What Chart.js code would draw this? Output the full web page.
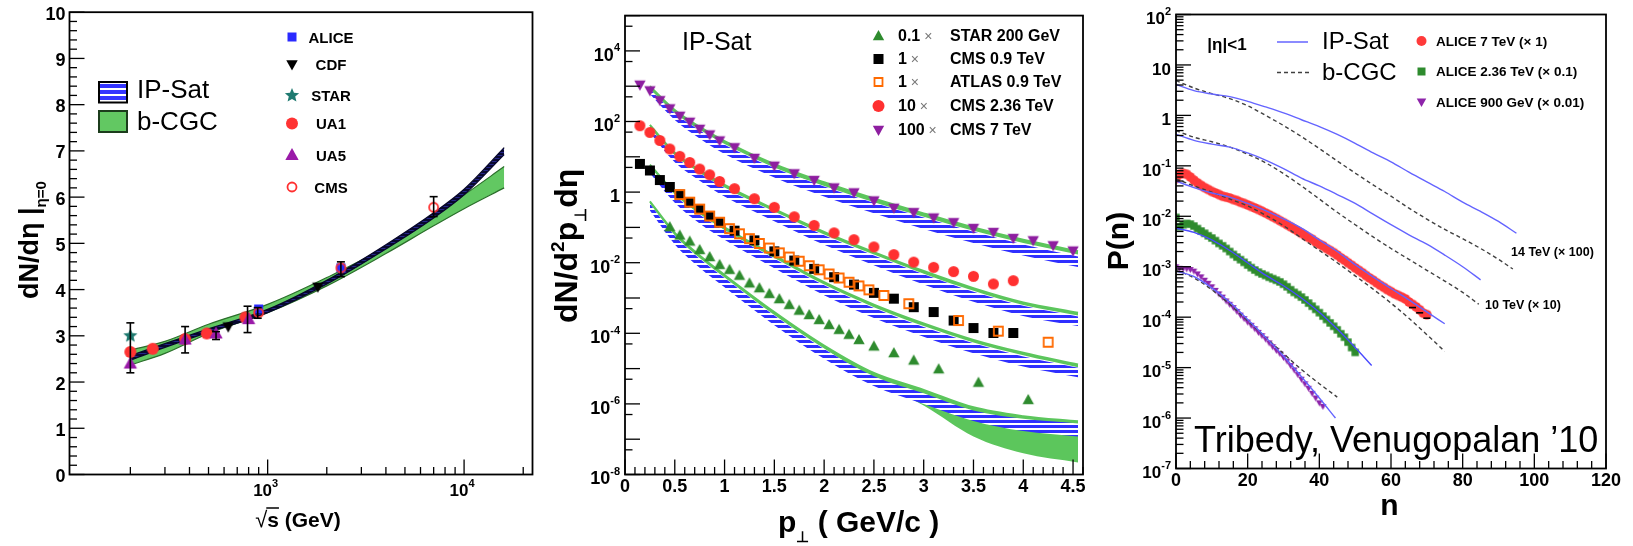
<!DOCTYPE html>
<html>
<head>
<meta charset="utf-8">
<title>IP-Sat / b-CGC: multiplicity, spectra and P(n)</title>
<script src="https://cdn.jsdelivr.net/npm/chart.js@4.4.1/dist/chart.umd.min.js"></script>
<style>
  html, body { margin: 0; padding: 0; background: #fff; }
  body { position: relative; width: 1633px; height: 546px; overflow: hidden; }
  canvas { position: absolute; left: 0; top: 0; }
</style>
</head>
<body>
<canvas id="left" width="1633" height="546"></canvas>
<canvas id="mid" width="1633" height="546"></canvas>
<canvas id="right" width="1633" height="546"></canvas>
<script>
// ---------------- left panel: dN/deta at eta=0 vs sqrt(s) ----------------
const leftYTicks = [0, 1, 2, 3, 4, 5, 6, 7, 8, 9, 10];
const leftXTicks = [1000, 10000];
const leftXExp = [3, 4];

const sqrtS   = [200, 300, 500, 1000, 2000, 4000, 7000, 10000, 16000];
const ipsatLo = [2.47, 2.75, 3.08, 3.50, 4.12, 4.88, 5.55, 6.05, 6.92];
const ipsatHi = [2.57, 2.83, 3.15, 3.57, 4.20, 4.97, 5.66, 6.17, 7.07];
const bcgcLo  = [2.37, 2.62, 3.05, 3.50, 4.08, 4.78, 5.38, 5.75, 6.20];
const bcgcHi  = [2.69, 2.88, 3.25, 3.68, 4.26, 4.93, 5.64, 6.05, 6.66];

const starS = [200], starV = [3.0];
const ua1S = [200, 260, 380, 490, 770], ua1V = [2.65, 2.72, 2.93, 3.05, 3.40];
const ua5S = [200, 380, 546, 800], ua5V = [2.40, 2.92, 3.05, 3.36];
const cdfS = [630, 1800], cdfV = [3.20, 4.06];
const aliceS = [900, 2360], aliceV = [3.58, 4.47];
const cmsS = [900, 2360, 7000], cmsV = [3.50, 4.47, 5.78];
const errS  = [200, 380, 546, 790, 890, 2360, 7000];
const errLo = [2.20, 2.63, 2.92, 3.07, 3.38, 4.28, 5.58];
const errHi = [3.28, 3.20, 3.09, 3.64, 3.61, 4.60, 6.01];

// ---------------- middle panel: dN/d2pT deta vs pT ----------------
const midXTicks = [0, 0.5, 1, 1.5, 2, 2.5, 3, 3.5, 4, 4.5];
const midXLabels = ['0', '0.5', '1', '1.5', '2', '2.5', '3', '3.5', '4', '4.5'];
const midYExp = [4, 2, 0, -2, -4, -6, -8];

const ptBand = [0.25, 0.5, 0.75, 1.0, 1.5, 2.0, 2.5, 3.0, 3.5, 4.0, 4.55];
const cgcHi7 = [1000, 210, 70, 28, 6.2, 1.9, 0.66, 0.25, 0.10, 0.045, 0.021];
const cgcLo7 = [820, 175, 58, 23, 5.0, 1.5, 0.52, 0.20, 0.08, 0.036, 0.017];
const ipHi7  = [820, 170, 56, 22, 4.8, 1.45, 0.50, 0.19, 0.075, 0.033, 0.015];
const ipLo7  = [600, 110, 33, 12, 2.6, 0.75, 0.25, 0.09, 0.036, 0.016, 0.0075];
const cgcHi236 = [80, 13, 4.2, 1.6, 0.33, 0.075, 0.02, 0.0058, 0.0019, 0.00075, 0.00038];
const cgcLo236 = [68, 11, 3.5, 1.35, 0.28, 0.063, 0.017, 0.0049, 0.0016, 0.00063, 0.00032];
const ipHi236  = [68, 10.5, 3.4, 1.3, 0.27, 0.06, 0.016, 0.0047, 0.0015, 0.0006, 0.0003];
const ipLo236  = [48, 7, 2.1, 0.75, 0.15, 0.032, 0.0085, 0.0024, 0.00078, 0.00031, 0.00016];
const cgcHi09 = [6, 1.0, 0.28, 0.1, 0.016, 0.0028, 0.00065, 0.00019, 0.000065, 0.000028, 0.000013];
const cgcLo09 = [5.1, 0.85, 0.24, 0.085, 0.0135, 0.0024, 0.00055, 0.00016, 0.000055, 0.000024, 0.000011];
const ipHi09  = [5, 0.82, 0.23, 0.082, 0.013, 0.0023, 0.00052, 0.00015, 0.000052, 0.000022, 0.0000105];
const ipLo09  = [3.5, 0.5, 0.13, 0.045, 0.007, 0.0012, 0.00027, 0.00008, 0.000027, 0.0000115, 0.0000057];
const cgcHi02 = [0.55, 0.07, 0.016, 0.0045, 0.0004, 0.000045, 0.0000075, 0.0000025, 0.0000008, 0.00000045, 0.00000032];
const cgcLo02 = [0.47, 0.06, 0.0135, 0.0038, 0.00033, 0.000037, 0.000005, 0.0000009, 0.00000012, 0.00000004, 0.000000022];
const ipHi02  = [0.47, 0.058, 0.013, 0.0037, 0.00032, 0.000036, 0.0000061, 0.000002, 0.00000065, 0.00000038, 0.00000028];
const ipLo02  = [0.3, 0.033, 0.0072, 0.002, 0.00017, 0.000019, 0.0000032, 0.000001, 0.00000033, 0.00000017, 0.00000012];

const cms7Pt = [0.15, 0.25, 0.35, 0.45, 0.55, 0.65, 0.75, 0.85, 0.95, 1.1, 1.3, 1.5, 1.7, 1.9, 2.1, 2.3, 2.5, 2.7, 2.9, 3.1, 3.3, 3.5, 3.7, 3.9, 4.1, 4.3, 4.5];
const cms7 = [1100, 760, 400, 235, 145, 98, 62, 43, 29, 18.6, 9.3, 5.6, 3.4, 2.2, 1.35, 0.98, 0.58, 0.36, 0.27, 0.19, 0.14, 0.096, 0.074, 0.050, 0.043, 0.031, 0.022];
const cms236Pt = [0.15, 0.25, 0.35, 0.45, 0.55, 0.65, 0.75, 0.85, 0.95, 1.1, 1.3, 1.5, 1.7, 1.9, 2.1, 2.3, 2.5, 2.7, 2.9, 3.1, 3.3, 3.5, 3.7, 3.9];
const cms236 = [76, 49, 29, 16.7, 10.3, 6.9, 4.5, 3.1, 2.0, 1.25, 0.65, 0.37, 0.20, 0.114, 0.070, 0.045, 0.028, 0.017, 0.0104, 0.0074, 0.0056, 0.0041, 0.0025, 0.0031];
const cms09Pt = [0.15, 0.25, 0.35, 0.45, 0.55, 0.65, 0.75, 0.85, 0.95, 1.1, 1.3, 1.5, 1.7, 1.9, 2.1, 2.3, 2.5, 2.7, 2.9, 3.1, 3.3, 3.5, 3.7, 3.9];
const cms09 = [6.3, 4.1, 2.2, 1.4, 0.85, 0.52, 0.33, 0.21, 0.14, 0.081, 0.043, 0.021, 0.0115, 0.0067, 0.0039, 0.0024, 0.0014, 0.00096, 0.00055, 0.0004, 0.00023, 0.000141, 0.000102, 0.000102];
const atlas09Pt = [0.55, 0.65, 0.75, 0.85, 0.95, 1.05, 1.15, 1.25, 1.35, 1.45, 1.55, 1.65, 1.75, 1.85, 1.95, 2.05, 2.15, 2.25, 2.35, 2.45, 2.6, 2.85, 3.35, 3.75, 4.25];
const atlas09 = [0.85, 0.52, 0.33, 0.21, 0.14, 0.092, 0.066, 0.048, 0.035, 0.026, 0.019, 0.0145, 0.011, 0.0082, 0.0063, 0.0048, 0.0037, 0.0028, 0.0022, 0.0017, 0.00118, 0.00069, 0.00023, 0.000115, 0.000056];
const star200Pt = [0.45, 0.55, 0.65, 0.75, 0.85, 0.95, 1.05, 1.15, 1.25, 1.35, 1.45, 1.55, 1.65, 1.75, 1.85, 1.95, 2.05, 2.15, 2.25, 2.35, 2.5, 2.7, 2.9, 3.15, 3.55, 4.05];
const star200 = [0.102, 0.059, 0.040, 0.023, 0.0145, 0.0087, 0.0063, 0.0043, 0.0026, 0.0019, 0.00131, 0.00093, 0.00064, 0.00044, 0.00033, 0.00024, 0.000173, 0.000126, 0.000091, 0.000065, 0.0000425, 0.0000275, 0.000017, 0.0000096, 0.000004, 0.0000013];

const midLegend = [
  { kind: 'tri', color: '#2e8b2e', factor: '0.1', name: 'STAR 200 GeV' },
  { kind: 'square', color: '#000', factor: '1', name: 'CMS 0.9 TeV' },
  { kind: 'osquare', color: '#ff6a00', factor: '1', name: 'ATLAS 0.9 TeV' },
  { kind: 'circle', color: '#ff3030', factor: '10', name: 'CMS 2.36 TeV' },
  { kind: 'dtri', color: '#8e1ea0', factor: '100', name: 'CMS 7 TeV' }
];

// ---------------- right panel: P(n) vs n ----------------
const rightXTicks = [0, 20, 40, 60, 80, 100, 120];
const rightYExp = [2, 1, 0, -1, -2, -3, -4, -5, -6, -7];

// ALICE points, index = multiplicity n
const alice7 = [0.056, 0.068, 0.071, 0.068, 0.060, 0.052, 0.046, 0.041, 0.037, 0.034,
  0.031, 0.029, 0.027, 0.025, 0.024, 0.023, 0.0215, 0.0205, 0.019, 0.018,
  0.0168, 0.0157, 0.0146, 0.0136, 0.0126, 0.0116, 0.0107, 0.0098, 0.0090, 0.0082,
  0.0075, 0.0068, 0.0062, 0.0056, 0.0051, 0.0046, 0.0042, 0.0038, 0.0035, 0.0031,
  0.0028, 0.0026, 0.0023, 0.0021, 0.0019, 0.0017, 0.0015, 0.00135, 0.0012, 0.00107,
  0.00095, 0.00085, 0.00076, 0.00067, 0.0006, 0.00054, 0.00048, 0.00043, 0.00039, 0.00035,
  0.00032, 0.00029, 0.00027, 0.00025, 0.00023, 0.0002, 0.00018, 0.00016, 0.00014, 0.00012,
  0.000112];
const alice236 = [0.0095, 0.0062, 0.0068, 0.0072, 0.0070, 0.0064, 0.0057, 0.0051, 0.0046, 0.0041,
  0.0037, 0.0033, 0.0029, 0.0026, 0.0023, 0.0020, 0.00175, 0.00155, 0.00138, 0.00122,
  0.00108, 0.00096, 0.00086, 0.00078, 0.00072, 0.00067, 0.00062, 0.00058, 0.00054, 0.0005,
  0.00045, 0.0004, 0.00035, 0.00031, 0.00028, 0.00025, 0.00022, 0.00019, 0.000165, 0.000143,
  0.000123, 0.000105, 0.00009, 0.000077, 0.000066, 0.000056, 0.000047, 0.00004, 0.000032, 0.000025,
  0.00002];
const alice900 = [0.001, 0.00093, 0.00092, 0.00091, 0.00088, 0.00082, 0.00072, 0.00063, 0.00054, 0.00047,
  0.0004, 0.00034, 0.00029, 0.00025, 0.00021, 0.00018, 0.000155, 0.00013, 0.00011, 0.000094,
  0.00008, 0.000069, 0.000059, 0.00005, 0.000043, 0.000037, 0.000031, 0.000026, 0.000022, 0.000019,
  0.000016, 0.0000135, 0.000011, 0.000009, 0.0000073, 0.0000059, 0.0000048, 0.0000039, 0.0000031, 0.0000025,
  0.000002, 0.0000017];
// lower ends of the last ALICE 7 TeV error bars, [n, P]
const alice7ErrLow = [[66, 0.000155], [68, 0.000122], [70, 0.0000955]];

// model curves, [n, P(n)]
const ip14 = [[0, 4.1], [5, 3.1], [10, 2.65], [15, 2.35], [20, 1.9], [25, 1.47], [30, 1.12], [35, 0.82], [40, 0.6], [45, 0.42], [50, 0.28], [55, 0.18], [60, 0.12], [65, 0.075], [70, 0.048], [75, 0.031], [80, 0.019], [85, 0.0125], [90, 0.0079], [95, 0.0046]];
const cgc14 = [[0, 4.9], [5, 3.5], [10, 2.7], [15, 2.15], [20, 1.55], [25, 1.0], [30, 0.63], [35, 0.38], [40, 0.22], [45, 0.125], [50, 0.072], [55, 0.042], [60, 0.025], [65, 0.0145], [70, 0.0088], [75, 0.0055], [80, 0.0036], [85, 0.0023], [90, 0.0014], [94, 0.0009]];
const ip10 = [[0, 0.42], [5, 0.32], [10, 0.27], [15, 0.235], [20, 0.18], [25, 0.13], [30, 0.088], [35, 0.057], [40, 0.04], [45, 0.027], [50, 0.018], [55, 0.011], [60, 0.0068], [65, 0.0043], [70, 0.0028], [75, 0.0017], [80, 0.001], [85, 0.00055]];
const cgc10 = [[0, 0.5], [5, 0.37], [10, 0.3], [15, 0.235], [20, 0.17], [25, 0.115], [30, 0.07], [35, 0.04], [40, 0.022], [45, 0.012], [50, 0.0068], [55, 0.0039], [60, 0.0023], [65, 0.0014], [70, 0.00085], [75, 0.00052], [80, 0.00031], [84.5, 0.00018]];
const ip7 = [[0, 0.05], [5, 0.037], [10, 0.029], [15, 0.024], [20, 0.018], [25, 0.013], [30, 0.0089], [35, 0.0058], [40, 0.0034], [45, 0.002], [50, 0.0011], [55, 0.00063], [60, 0.00037], [65, 0.00022], [70, 0.000127], [75, 0.000074]];
const cgc7 = [[0, 0.055], [5, 0.04], [10, 0.03], [15, 0.022], [20, 0.016], [25, 0.0105], [30, 0.0065], [35, 0.0037], [40, 0.0021], [45, 0.0012], [50, 0.00066], [55, 0.00036], [60, 0.00019], [65, 0.000095], [70, 0.000045], [75, 0.000021]];
const ip236 = [[0, 0.0058], [5, 0.0048], [10, 0.0034], [15, 0.0021], [20, 0.0012], [25, 0.00068], [30, 0.00042], [35, 0.00024], [40, 0.000125], [45, 0.000058], [50, 0.000025], [54.6, 0.000011]];
const ip09 = [[0, 0.00082], [5, 0.00064], [10, 0.00038], [15, 0.0002], [20, 0.00009], [25, 0.00004], [30, 0.000017], [35, 0.0000066], [40, 0.0000025], [44.5, 0.000001]];
const cgc09 = [[0, 0.00086], [5, 0.0006], [10, 0.00035], [15, 0.00018], [20, 0.000085], [25, 0.00004], [30, 0.000019], [35, 0.0000092], [40, 0.0000048], [45, 0.0000026]];

const rightLegend = [
  { kind: 'circle', color: '#ff3a3a', name: 'ALICE 7 TeV (\u00D7 1)' },
  { kind: 'square', color: '#2e8b2e', name: 'ALICE 2.36 TeV (\u00D7 0.1)' },
  { kind: 'dtri', color: '#8e24aa', name: 'ALICE 900 GeV (\u00D7 0.01)' }
];

// ---------------- helpers ----------------
const F = '"Liberation Sans", Arial, Helvetica, sans-serif';
const fnt = (s, b) => (b ? 'bold ' : '') + s + 'px ' + F;

function seg(g, x1, y1, x2, y2) { g.beginPath(); g.moveTo(x1, y1); g.lineTo(x2, y2); g.stroke(); }

function runsWidth(g, runs) {
  let w = 0;
  for (const r of runs) { g.font = fnt(r.s, r.b); w += g.measureText(r.t).width; }
  return w;
}
function runs(g, x, y, list, align) {
  const w = runsWidth(g, list);
  let cx = align === 'center' ? x - w / 2 : align === 'right' ? x - w : x;
  g.textAlign = 'left';
  for (const r of list) {
    g.font = fnt(r.s, r.b);
    g.fillStyle = r.c || '#000';
    g.fillText(r.t, cx, y + (r.dy || 0));
    cx += g.measureText(r.t).width;
  }
  return w;
}
function pow10(e, s) {
  if (e === 0) return [{ t: '1', s, b: true }];
  if (e === 1) return [{ t: '10', s, b: true }];
  return [{ t: '10', s, b: true }, { t: String(e), s: Math.round(s * 0.62), b: true, dy: -s * 0.42 }];
}

function drawMarker(g, kind, x, y, r, color) {
  g.save();
  g.fillStyle = color; g.strokeStyle = color; g.lineWidth = 1.8;
  g.beginPath();
  if (kind === 'circle') g.arc(x, y, r, 0, 2 * Math.PI);
  else if (kind === 'ocircle') g.arc(x, y, r - 1, 0, 2 * Math.PI);
  else if (kind === 'square') g.rect(x - r, y - r, 2 * r, 2 * r);
  else if (kind === 'osquare') g.rect(x - r + 1, y - r + 1, 2 * r - 2, 2 * r - 2);
  else if (kind === 'tri') { g.moveTo(x, y - r); g.lineTo(x + r * 0.95, y + r * 0.7); g.lineTo(x - r * 0.95, y + r * 0.7); g.closePath(); }
  else if (kind === 'dtri') { g.moveTo(x, y + r); g.lineTo(x + r * 0.95, y - r * 0.7); g.lineTo(x - r * 0.95, y - r * 0.7); g.closePath(); }
  else if (kind === 'star') {
    for (let i = 0; i < 10; i++) {
      const a = -Math.PI / 2 + i * Math.PI / 5, rr = i % 2 ? r * 0.45 : r;
      const px = x + rr * Math.cos(a), py = y + rr * Math.sin(a);
      if (i) g.lineTo(px, py); else g.moveTo(px, py);
    }
    g.closePath();
  }
  if (kind[0] === 'o') g.stroke(); else g.fill();
  g.restore();
}
function marker(kind, r, color) {
  const s = Math.ceil(2 * r + 4);
  const c = document.createElement('canvas');
  c.width = c.height = s;
  drawMarker(c.getContext('2d'), kind, s / 2, s / 2, r, color);
  return c;
}
function stripes(g, fg, bg, period, thick) {
  const t = document.createElement('canvas');
  t.width = 6; t.height = period;
  const c = t.getContext('2d');
  if (bg) { c.fillStyle = bg; c.fillRect(0, 0, 6, period); }
  c.fillStyle = fg; c.fillRect(0, 0, 6, thick);
  return g.createPattern(t, 'repeat');
}

const xy = (xs, ys) => xs.map((x, i) => ({ x, y: ys[i] }));
const pairs = arr => arr.map(p => ({ x: p[0], y: p[1] }));
const byIndex = arr => arr.map((y, n) => ({ x: n, y }));

const dots = (data, style, order) => ({ data, showLine: false, pointStyle: style, pointRadius: 4, order });
const curve = (data, color, width, dash, order) => ({
  data, borderColor: color, borderWidth: width, borderDash: dash || [], pointRadius: 0,
  fill: false, cubicInterpolationMode: 'monotone', order
});
const band = (data, color, width, bg, order) => Object.assign(curve(data, color, width, null, order), { fill: '-1', backgroundColor: bg });

function options(pad, xScale, yScale) {
  return {
    responsive: false, animation: false, events: [],
    layout: { padding: pad },
    plugins: { legend: { display: false }, tooltip: { enabled: false } },
    scales: {
      x: Object.assign({ display: false, bounds: 'data' }, xScale),
      y: Object.assign({ display: false, bounds: 'data' }, yScale)
    }
  };
}

// ---------------- left chart ----------------
const lctx = document.getElementById('left').getContext('2d');
const navyHatch = stripes(lctx, '#080830', '#26268a', 3, 2);
const legendBlue = stripes(lctx, '#3434ff', '#ffffff', 6, 4);

const leftDeco = {
  id: 'leftDeco',
  afterDatasetsDraw(chart) {
    const g = chart.ctx, xs = chart.scales.x, ys = chart.scales.y;
    g.save();
    g.strokeStyle = '#000'; g.lineWidth = 1.6;
    errS.forEach((s, i) => {
      const px = xs.getPixelForValue(s), p1 = ys.getPixelForValue(errLo[i]), p2 = ys.getPixelForValue(errHi[i]);
      seg(g, px, p1, px, p2); seg(g, px - 4, p1, px + 4, p1); seg(g, px - 4, p2, px + 4, p2);
    });
    g.restore();
  },
  afterDraw(chart) {
    const g = chart.ctx, a = chart.chartArea, xs = chart.scales.x, ys = chart.scales.y;
    g.save();
    g.strokeStyle = '#000'; g.lineWidth = 1.3;
    for (let i = 0; i <= 50; i++) {
      const py = ys.getPixelForValue(i / 5);
      seg(g, a.left, py, a.left + (i % 5 ? 7.5 : 15), py);
    }
    for (const d of [100, 1000, 10000]) {
      for (let m = 1; m <= 9; m++) {
        const v = m * d;
        if (v <= xs.min * 1.05 || v > xs.max) continue;
        const px = xs.getPixelForValue(v);
        seg(g, px, a.bottom, px, a.bottom - (m === 1 ? 15 : 7.5));
      }
    }
    g.lineWidth = 1.8;
    g.strokeRect(a.left, a.top, a.right - a.left, a.bottom - a.top);

    g.textBaseline = 'middle';
    leftYTicks.forEach(v => runs(g, a.left - 4, ys.getPixelForValue(v) + 2.5, [{ t: String(v), s: 18, b: true }], 'right'));
    leftXTicks.forEach((v, i) => runs(g, xs.getPixelForValue(v) - 2, 491, pow10(leftXExp[i], 17), 'center'));

    // x title: sqrt(s) (GeV)
    g.textBaseline = 'alphabetic';
    g.font = fnt(22, false); const wr = g.measureText('\u221A').width;
    g.font = fnt(21, true); const wsv = g.measureText('s').width, wg = g.measureText(' (GeV)').width;
    let x0 = 298 - (wr + wsv + wg) / 2;
    g.fillStyle = '#000';
    g.font = fnt(22, false); g.fillText('\u221A', x0, 527);
    g.font = fnt(21, true); g.fillText('s', x0 + wr, 527); g.fillText(' (GeV)', x0 + wr + wsv, 527);
    g.lineWidth = 1.5; seg(g, x0 + wr - 1, 508, x0 + wr + wsv, 508);

    // y title: dN/deta |eta=0
    g.save();
    g.translate(38, 299); g.rotate(-Math.PI / 2);
    runs(g, 0, 0, [{ t: 'dN/d\u03B7 ', s: 27, b: true }, { t: '|', s: 27, b: true }, { t: '\u03B7=0', s: 15, b: true, dy: 8 }], 'left');
    g.restore();

    // band legend
    g.fillStyle = legendBlue; g.fillRect(99, 82, 28, 20.5);
    g.strokeStyle = '#000'; g.lineWidth = 2; g.strokeRect(99, 82, 28, 20.5);
    g.fillStyle = '#62c862'; g.fillRect(99, 111, 28, 21);
    g.strokeStyle = '#1c3c1c'; g.strokeRect(99, 111, 28, 21);
    g.textBaseline = 'middle';
    runs(g, 137, 91, [{ t: 'IP-Sat', s: 26, b: false }], 'left');
    runs(g, 137, 123, [{ t: 'b-CGC', s: 26, b: false }], 'left');

    // data legend
    const leg = [['ALICE', 'square', 4.5, '#2a2aff'], ['CDF', 'dtri', 6, '#000'], ['STAR', 'star', 7.5, '#1f7a70'],
                 ['UA1', 'circle', 6, '#ff3333'], ['UA5', 'tri', 7, '#9a1aa8'], ['CMS', 'ocircle', 5.5, '#ff3030']];
    const legY = [37, 64.5, 95.5, 123.5, 155, 187];
    leg.forEach((l, i) => {
      drawMarker(g, l[1], 292, legY[i], l[2], l[3]);
      runs(g, 331, legY[i] + 1.5, [{ t: l[0], s: 15, b: true }], 'center');
    });
    g.restore();
  }
};

new Chart(lctx, {
  type: 'line',
  data: {
    datasets: [
      dots(xy(starS, starV), marker('star', 7.5, '#1f7a70'), 0),
      dots(xy(cmsS, cmsV), marker('ocircle', 5.5, '#ff3030'), 0),
      dots(xy(aliceS, aliceV), marker('square', 4.5, '#2a2aff'), 0),
      dots(xy(cdfS, cdfV), marker('dtri', 6, '#000'), 0),
      dots(xy(ua5S, ua5V), marker('tri', 7, '#9a1aa8'), 0),
      dots(xy(ua1S, ua1V), marker('circle', 6, '#ff3333'), 0),
      curve(xy(sqrtS, ipsatLo), '#06062a', 1.3, null, 2),
      band(xy(sqrtS, ipsatHi), '#06062a', 1.3, navyHatch, 2),
      curve(xy(sqrtS, bcgcLo), '#2b6e2b', 1.2, null, 3),
      band(xy(sqrtS, bcgcHi), '#2b6e2b', 1.2, '#62c862', 3)
    ]
  },
  options: options({ left: 69.5, right: 1100.5, top: 12.2, bottom: 71.5 },
    { type: 'logarithmic', min: 98, max: 22300 },
    { type: 'linear', min: 0, max: 10 }),
  plugins: [leftDeco]
});

// ---------------- middle chart ----------------
const mctx = document.getElementById('mid').getContext('2d');
const blueHatch = stripes(mctx, '#2f2fff', '#ffffff', 5, 3);
const GREEN = '#5cc65c';

const midDeco = {
  id: 'midDeco',
  afterDraw(chart) {
    const g = chart.ctx, a = chart.chartArea, xs = chart.scales.x, ys = chart.scales.y;
    g.save();
    g.strokeStyle = '#000'; g.lineWidth = 1.3;
    for (let e = -8; e <= 5; e++) {
      const v = Math.pow(10, e);
      const py = ys.getPixelForValue(v);
      seg(g, a.left, py, a.left + 15, py);
      if (5 * v < ys.max) { const p5 = ys.getPixelForValue(5 * v); seg(g, a.left, p5, a.left + 7.5, p5); }
    }
    for (let i = 0; i <= 46; i++) {
      const px = xs.getPixelForValue(i / 10);
      seg(g, px, a.bottom, px, a.bottom - (i % 5 ? 7.5 : 15));
    }
    g.lineWidth = 1.8;
    g.strokeRect(a.left, a.top, a.right - a.left, a.bottom - a.top);

    g.textBaseline = 'middle';
    midYExp.forEach(e => runs(g, a.left - 5, ys.getPixelForValue(Math.pow(10, e)) + 5, pow10(e, 18), 'right'));
    midXTicks.forEach((v, i) => runs(g, xs.getPixelForValue(v), 487, [{ t: midXLabels[i], s: 18, b: true }], 'center'));

    // x title
    g.textBaseline = 'alphabetic';
    runs(g, 778, 532, [{ t: 'p', s: 30, b: true }, { t: '\u22A5', s: 15, b: true, dy: 10 }, { t: ' ( GeV/c )', s: 30, b: true }], 'left');
    // y title
    g.save();
    g.translate(577, 323); g.rotate(-Math.PI / 2);
    runs(g, 0, 0, [{ t: 'dN/d', s: 32, b: true }, { t: '2', s: 19, b: true, dy: -13 }, { t: 'p', s: 32, b: true },
                   { t: '\u22A5', s: 16, b: true, dy: 9 }, { t: 'd\u03B7', s: 32, b: true }], 'left');
    g.restore();

    g.textBaseline = 'middle';
    runs(g, 682, 43.5, [{ t: 'IP-Sat', s: 25, b: false }], 'left');

    const rowY = [36, 59, 82, 106, 130];
    midLegend.forEach((l, i) => {
      drawMarker(g, l.kind, 878.5, rowY[i], l.kind === 'square' || l.kind === 'osquare' ? 5 : 6, l.color);
      runs(g, 898, rowY[i] + 1, [{ t: l.factor, s: 16, b: true }, { t: ' \u00D7', s: 14, b: false, c: '#777' }], 'left');
      runs(g, 950, rowY[i] + 1, [{ t: l.name, s: 16, b: true }], 'left');
    });
    g.restore();
  }
};

const midBands = [];
[[cgcLo7, cgcHi7, ipLo7, ipHi7], [cgcLo236, cgcHi236, ipLo236, ipHi236],
 [cgcLo09, cgcHi09, ipLo09, ipHi09], [cgcLo02, cgcHi02, ipLo02, ipHi02]].forEach(s => {
  midBands.push(curve(xy(ptBand, s[0]), GREEN, 0, null, 3));
  midBands.push(band(xy(ptBand, s[1]), GREEN, 2, GREEN, 3));
  midBands.push(curve(xy(ptBand, s[2]), '#2f2fff', 0, null, 2));
  midBands.push(band(xy(ptBand, s[3]), '#2f2fff', 0, blueHatch, 2));
});

new Chart(mctx, {
  type: 'line',
  data: {
    datasets: [
      dots(xy(cms7Pt, cms7), marker('dtri', 6, '#8e1ea0'), 0),
      dots(xy(cms236Pt, cms236), marker('circle', 5.5, '#ff3030'), 0),
      dots(xy(atlas09Pt, atlas09), marker('osquare', 5.5, '#ff6a00'), 0),
      dots(xy(cms09Pt, cms09), marker('square', 5, '#000'), 0),
      dots(xy(star200Pt, star200), marker('tri', 6, '#2e8b2e'), 0)
    ].concat(midBands)
  },
  options: options({ left: 625, right: 550, top: 15.6, bottom: 71.5 },
    { type: 'linear', min: 0, max: 4.6 },
    { type: 'logarithmic', min: 1e-8, max: 1e5 }),
  plugins: [midDeco]
});

// ---------------- right chart ----------------
const rctx = document.getElementById('right').getContext('2d');
const LBLUE = '#6464ff', DASH = '#404040';

const rightDeco = {
  id: 'rightDeco',
  afterDatasetsDraw(chart) {
    const g = chart.ctx, xs = chart.scales.x, ys = chart.scales.y;
    g.save();
    g.strokeStyle = '#000'; g.lineWidth = 1.6;
    alice7ErrLow.forEach(p => {
      const px = xs.getPixelForValue(p[0]), py = ys.getPixelForValue(p[1]);
      seg(g, px - 3.5, py, px + 3.5, py);
    });
    g.restore();
  },
  afterDraw(chart) {
    const g = chart.ctx, a = chart.chartArea, xs = chart.scales.x, ys = chart.scales.y;
    g.save();
    g.strokeStyle = '#000'; g.lineWidth = 1.3;
    for (let e = -7; e <= 2; e++) {
      const d = Math.pow(10, e);
      const py = ys.getPixelForValue(d);
      seg(g, a.left, py, a.left + 15, py);
      for (let m = 2; m <= 9 && e < 2; m++) {
        const pm = ys.getPixelForValue(m * d);
        seg(g, a.left, pm, a.left + 7.5, pm);
      }
    }
    for (let v = 0; v <= 120; v += 4) {
      const px = xs.getPixelForValue(v);
      seg(g, px, a.bottom, px, a.bottom - (v % 20 ? 7.5 : 15));
    }
    g.lineWidth = 1.8;
    g.strokeRect(a.left, a.top, a.right - a.left, a.bottom - a.top);

    g.textBaseline = 'middle';
    rightYExp.forEach(e => runs(g, a.left - 5, ys.getPixelForValue(Math.pow(10, e)) + 5, pow10(e, 17), 'right'));
    rightXTicks.forEach(v => runs(g, xs.getPixelForValue(v), 481, [{ t: String(v), s: 18, b: true }], 'center'));

    g.textBaseline = 'alphabetic';
    runs(g, 1389.5, 515, [{ t: 'n', s: 30, b: true }], 'center');
    g.save();
    g.translate(1128, 241); g.rotate(-Math.PI / 2);
    runs(g, 0, 0, [{ t: 'P(n)', s: 30, b: true }], 'center');
    g.restore();

    // legend
    g.textBaseline = 'middle';
    runs(g, 1227, 45, [{ t: '|\u03B7|<1', s: 17, b: true }], 'center');
    g.strokeStyle = LBLUE; g.lineWidth = 1.5; seg(g, 1277, 42, 1308, 42);
    g.strokeStyle = DASH; g.setLineDash([4, 3]); seg(g, 1277, 72.5, 1311, 72.5); g.setLineDash([]);
    runs(g, 1322, 42.5, [{ t: 'IP-Sat', s: 24, b: false }], 'left');
    runs(g, 1322, 73, [{ t: 'b-CGC', s: 24, b: false }], 'left');
    const rowY = [41, 71.5, 102];
    rightLegend.forEach((l, i) => {
      drawMarker(g, l.kind, 1421.5, rowY[i], l.kind === 'square' ? 4 : 5, l.color);
      runs(g, 1436, rowY[i] + 1, [{ t: l.name, s: 13.5, b: true }], 'left');
    });
    runs(g, 1511, 253, [{ t: '14 TeV (\u00D7 100)', s: 12.5, b: true }], 'left');
    runs(g, 1485, 306, [{ t: '10 TeV (\u00D7 10)', s: 12.5, b: true }], 'left');

    g.textBaseline = 'alphabetic';
    g.font = fnt(36, false); g.fillStyle = '#000'; g.textAlign = 'left';
    g.fillText('Tribedy, Venugopalan \u201910', 1194, 452);
    g.restore();
  }
};

new Chart(rctx, {
  type: 'line',
  data: {
    datasets: [
      curve(pairs(ip14), LBLUE, 1.4, null, 0),
      curve(pairs(cgc14), DASH, 1.4, [4, 3], 0),
      curve(pairs(ip10), LBLUE, 1.4, null, 0),
      curve(pairs(cgc10), DASH, 1.4, [4, 3], 0),
      curve(pairs(ip7), LBLUE, 1.4, null, 0),
      curve(pairs(cgc7), DASH, 1.4, [4, 3], 0),
      curve(pairs(ip236), '#4a4aff', 1.4, null, 0),
      curve(pairs(ip09), LBLUE, 1.4, null, 0),
      curve(pairs(cgc09), DASH, 1.4, [4, 3], 0),
      dots(byIndex(alice7), marker('circle', 4.8, '#ff3a3a'), 1),
      dots(byIndex(alice236), marker('square', 3.7, '#2e8b2e'), 1),
      dots(byIndex(alice900), marker('dtri', 3.5, '#8e24aa'), 1)
    ]
  },
  options: options({ left: 1176, right: 27, top: 14.5, bottom: 77.5 },
    { type: 'linear', min: 0, max: 120 },
    { type: 'logarithmic', min: 1e-7, max: 100 }),
  plugins: [rightDeco]
});
</script>
</body>
</html>
